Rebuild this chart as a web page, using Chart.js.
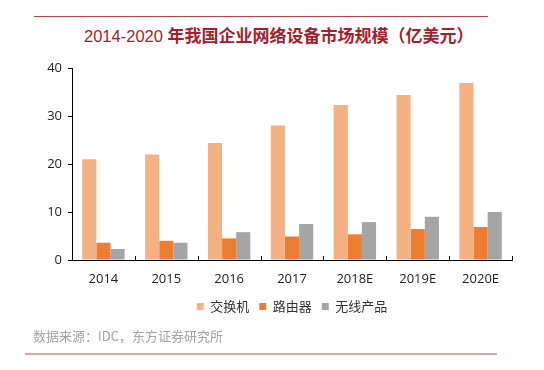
<!DOCTYPE html>
<html>
<head>
<meta charset="utf-8">
<script src="https://cdn.jsdelivr.net/npm/chart.js@4"></script>
<style>
  html, body { margin: 0; padding: 0; background: #ffffff; }
  #wrap { position: relative; width: 544px; height: 370px; overflow: hidden; background: #fff; }
  #topline { position: absolute; left: 34px; top: 16px; width: 454px; height: 1px; background: #b8434a; }
  #title { position: absolute; left: 84px; top: 23px; white-space: nowrap; color: #a61d2c;
           font-family: "Noto Sans CJK SC", sans-serif; font-size: 17px; line-height: 24px; }
  #title .num { font-family: "Liberation Sans", Arial, sans-serif; font-weight: normal; font-size: 16.5px; }
  #title .cn { font-weight: bold; }
  #source { position: absolute; left: 33px; top: 327px; white-space: nowrap; color: #a3a3a3;
            font-family: "Noto Sans CJK SC", sans-serif; font-size: 13px; line-height: 18px; }
  #bottomline { position: absolute; left: 25px; top: 353px; width: 472px; height: 2px; background: #dba3a6; }
  canvas { position: absolute; left: 0; top: 0; }
</style>
</head>
<body>
<div id="wrap">
  <div id="topline"></div>
  <div id="title"><span class="num">2014-2020 </span><span class="cn">年我国企业网络设备市场规模（亿美元）</span></div>
  <canvas id="c" width="544" height="370"></canvas>
  <div id="source">数据来源：IDC，东方证券研究所</div>
  <div id="bottomline"></div>
</div>
<script>
const categories = ["2014", "2015", "2016", "2017", "2018E", "2019E", "2020E"];
const switchValues = [21.0, 22.0, 24.4, 28.0, 32.3, 34.4, 36.9];
const routerValues = [3.6, 4.0, 4.5, 4.9, 5.35, 6.45, 6.9];
const wirelessValues = [2.3, 3.6, 5.8, 7.5, 7.9, 9.0, 10.0];
const seriesNames = ["交换机", "路由器", "无线产品"];
const yTicks = [0, 10, 20, 30, 40];

const tickFont = { family: "'Open Sans', 'Noto Sans', sans-serif", size: 13 };

const upTicks = {
  id: 'upTicks',
  afterDatasetsDraw(chart) {
    const x = chart.scales.x;
    const ctx = chart.ctx;
    ctx.save();
    ctx.strokeStyle = '#000';
    ctx.lineWidth = 1;
    for (let i = 1; i <= categories.length; i++) {
      const px = Math.round(x.getPixelForValue(i - 0.5)) + 0.5;
      ctx.beginPath();
      ctx.moveTo(px, x.top);
      ctx.lineTo(px, x.top - 4);
      ctx.stroke();
    }
    ctx.restore();
  }
};

new Chart(document.getElementById('c'), {
  type: 'bar',
  data: {
    labels: categories,
    datasets: [
      { label: seriesNames[0], data: switchValues, backgroundColor: '#f4b183' },
      { label: seriesNames[1], data: routerValues, backgroundColor: '#ed7d31' },
      { label: seriesNames[2], data: wirelessValues, backgroundColor: '#a5a5a5' }
    ]
  },
  options: {
    responsive: false,
    animation: false,
    devicePixelRatio: 1,
    layout: { padding: { left: 0, right: 32, top: 68, bottom: 47 } },
    datasets: { bar: { barPercentage: 1.0, categoryPercentage: 0.675 } },
    plugins: {
      title: { display: false },
      tooltip: { enabled: false },
      legend: {
        display: true,
        position: 'bottom',
        fullSize: false,
        labels: {
          boxWidth: 7, boxHeight: 7, padding: 10, color: '#333',
          font: { family: "'Noto Sans CJK SC', sans-serif", size: 13 }
        }
      }
    },
    scales: {
      x: {
        offset: true,
        grid: { display: false, drawTicks: false },
        border: { display: true, color: '#000', width: 1 },
        ticks: { color: '#222', font: tickFont, padding: 11, maxRotation: 0 },
        afterFit(s) { s.height = 30; }
      },
      y: {
        min: 0, max: 40,
        afterBuildTicks(s) { s.ticks = yTicks.map(v => ({ value: v })); },
        grid: { drawOnChartArea: false, drawTicks: true, tickLength: 4, color: '#000' },
        border: { display: true, color: '#000', width: 1 },
        ticks: { color: '#222', font: tickFont, padding: 6 },
        afterFit(s) { s.width = 72; }
      }
    }
  },
  plugins: [upTicks]
});
</script>
</body>
</html>
